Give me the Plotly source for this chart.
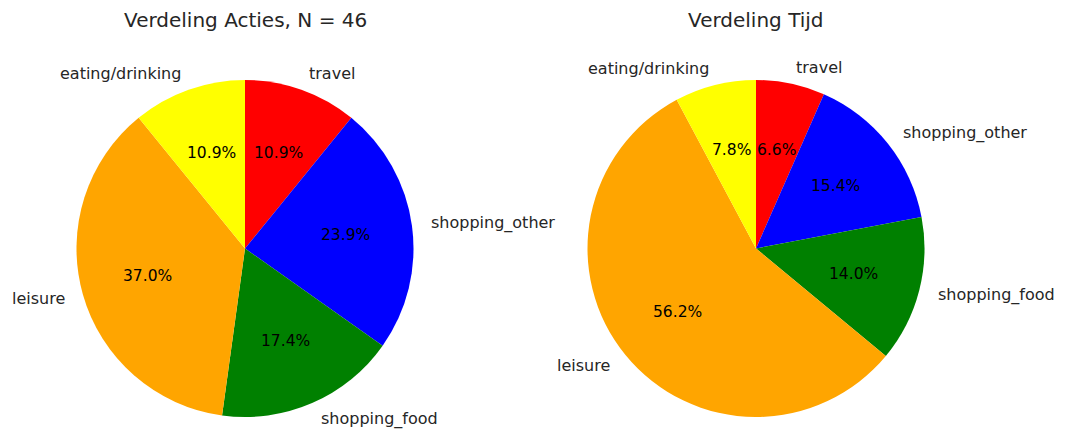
import math
import plotly.graph_objects as go

categories = ["travel", "shopping_other", "shopping_food", "leisure", "eating/drinking"]
colors = ["red", "blue", "green", "orange", "yellow"]
acties_counts = [5, 11, 8, 17, 5]
tijd_percent = [6.6, 15.4, 14.0, 56.2, 7.8]
titles = ["Verdeling Acties, N = 46", "Verdeling Tijd"]

W, H = 1066, 434
OFF = 8  # page body margin
FONT = "DejaVu Sans"
TXT = "#262626"

def px(x):
    return (x - OFF) / W

def py(y):
    return 1 - (y - OFF) / H

def dom(cx, cy, r):
    return dict(x=[px(cx - r), px(cx + r)], y=[py(cy + r), py(cy - r)])

fig = go.Figure()
centers = [(245, 248.5), (756, 248.5)]
R = 168.5
for vals, (cx, cy) in zip([acties_counts, tijd_percent], centers):
    fig.add_trace(go.Pie(
        labels=categories, values=vals, sort=False, direction="clockwise", rotation=0,
        marker=dict(colors=colors, line=dict(width=0)),
        textinfo="none", domain=dom(cx, cy, R), showlegend=False,
        hoverinfo="label+percent"))
    total = sum(vals)
    cum = 0.0
    for lab, v in zip(categories, vals):
        frac_mid = (cum + v / 2) / total
        cum += v
        ang = math.radians(90 - 360 * frac_mid)
        c, s = math.cos(ang), math.sin(ang)
        # percentage inside at 0.6 r
        fig.add_annotation(text=f"{100 * v / total:.1f}%", x=px(cx + 0.6 * R * c),
                           y=py(cy - 0.6 * R * s), xref="paper", yref="paper",
                           showarrow=False, xanchor="center", yanchor="middle",
                           font=dict(family=FONT, size=15.5, color="black"))
        # label outside at 1.1 r
        fig.add_annotation(text=lab, x=px(cx + 1.1 * R * c), y=py(cy - 1.1 * R * s),
                           xref="paper", yref="paper", showarrow=False,
                           xanchor="left" if c > 0 else "right", yanchor="middle",
                           font=dict(family=FONT, size=16, color=TXT))

for t, (cx, cy) in zip(titles, centers):
    fig.add_annotation(text=t, x=px(cx), y=py(20), xref="paper", yref="paper",
                       showarrow=False, xanchor="center", yanchor="middle",
                       font=dict(family=FONT, size=20, color=TXT))

fig.update_layout(width=W, height=H, margin=dict(l=0, r=0, t=0, b=0),
                  paper_bgcolor="white", plot_bgcolor="white",
                  font=dict(family=FONT))
fig.write_html("out.html")
